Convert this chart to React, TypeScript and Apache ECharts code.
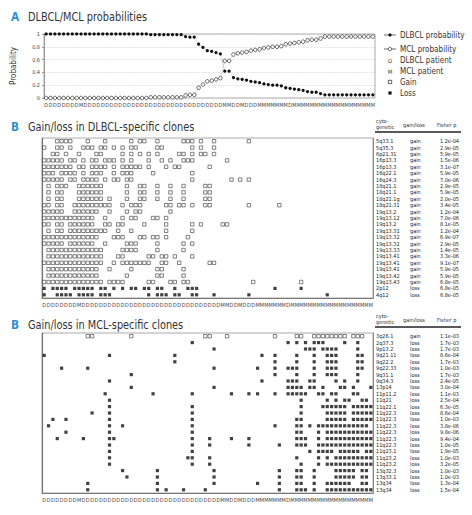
import React, { useEffect, useRef } from "react";
import * as echarts from "echarts";

const NARROW = "'Liberation Sans Narrow', 'DejaVu Sans Condensed', 'Arial Narrow', sans-serif";

// Patient order (D = DLBCL patient, M = MCL patient)
const patientTypes = ("DDDDDDDDM" + "DDDDDDDDDDDDDDDDDDDDDDDDDDDDDDDD" + "MMDDMDDDMMMMMMMD" + "MMMMMMMMMMMMMMMMMMM").split("");

const dlbclProb = [
  1, 1, 1, 1, 1, 1, 1, 1, 1, 1,
  1, 1, 1, 1, 1, 1, 1, 1, 1, 1,
  1, 1, 1, 1, 0.99, 0.99, 0.99, 0.99, 0.99, 0.99,
  0.99, 0.99, 0.96, 0.95, 0.95, 0.84, 0.79, 0.74, 0.73, 0.71,
  0.69, 0.42, 0.42, 0.32, 0.3, 0.29, 0.28, 0.26, 0.25, 0.24,
  0.22, 0.21, 0.2, 0.2, 0.19, 0.16, 0.15, 0.14, 0.13, 0.12,
  0.1, 0.09, 0.09, 0.07, 0.05, 0.05, 0.05, 0.05, 0.05, 0.05,
  0.05, 0.05, 0.05, 0.05, 0.05, 0.05,
];
const mclProb = [
  0, 0, 0, 0, 0, 0, 0, 0, 0, 0,
  0, 0, 0, 0, 0, 0, 0, 0, 0, 0,
  0, 0, 0, 0, 0.01, 0.01, 0.01, 0.01, 0.01, 0.01,
  0.01, 0.01, 0.04, 0.05, 0.05, 0.16, 0.21, 0.26, 0.27, 0.29,
  0.31, 0.58, 0.58, 0.68, 0.7, 0.71, 0.72, 0.74, 0.75, 0.76,
  0.78, 0.79, 0.8, 0.8, 0.81, 0.84, 0.85, 0.86, 0.87, 0.88,
  0.9, 0.91, 0.91, 0.93, 0.96, 0.96, 0.96, 0.96, 0.96, 0.96,
  0.96, 0.96, 0.96, 0.96, 0.96, 0.96,
];

// DLBCL-specific clones
const dlbclBands = ["5q33.1", "5q35.3", "6p21.31", "16p13.3", "16p13.3", "16q22.1", "16q24.3", "18q21.1", "18q21.1", "18q21.1g", "18q21.31", "19q13.2", "19q13.12", "19q13.2", "19q13.31", "19q13.32", "19q13.32", "19q13.33", "19q13.41", "19q13.41", "19q13.41", "19q13.42", "19q13.43", "2p12", "4q12"];
const dlbclKinds = ["gain", "gain", "gain", "gain", "gain", "gain", "gain", "gain", "gain", "gain", "gain", "gain", "gain", "gain", "gain", "gain", "gain", "gain", "gain", "gain", "gain", "gain", "gain", "loss", "loss"];
const dlbclPvals = ["1.2e-04", "2.9e-05", "5.9e-05", "1.5e-06", "3.1e-07", "5.9e-05", "7.0e-06", "2.9e-05", "5.9e-05", "2.0e-05", "3.4e-05", "1.2e-04", "7.0e-06", "8.1e-05", "1.2e-04", "6.9e-07", "2.9e-05", "1.4e-05", "3.3e-06", "9.1e-07", "5.9e-05", "5.9e-05", "6.8e-05", "6.8e-05", "6.8e-05"];
const dlbclHits = [
  [3, 4, 5, 6, 10, 14, 20, 22, 23, 26, 32, 33, 34, 36, 39, 47],
  [0, 3, 4, 6, 9, 10, 11, 13, 14, 16, 18, 20, 21, 26, 27, 34, 36, 39],
  [2, 3, 5, 8, 12, 13, 18, 20, 22, 24, 26, 31, 32, 34, 36, 37, 39],
  [0, 1, 2, 3, 4, 6, 7, 9, 11, 12, 14, 15, 16, 18, 20, 24, 27, 29, 32, 33, 34, 42],
  [0, 1, 2, 3, 4, 5, 6, 8, 9, 11, 12, 13, 14, 16, 18, 19, 20, 21, 22, 24, 28, 30, 31, 38],
  [0, 1, 2, 4, 5, 6, 7, 9, 11, 12, 13, 16, 18, 19, 20, 25, 34],
  [0, 1, 2, 3, 4, 6, 7, 9, 10, 11, 12, 14, 16, 17, 19, 20, 34, 43, 45, 47],
  [1, 3, 4, 5, 8, 9, 10, 11, 12, 13, 19, 22, 23, 26, 29, 32, 37, 38],
  [1, 3, 4, 8, 9, 10, 11, 12, 13, 19, 22, 23, 26, 29, 32, 37, 38],
  [1, 3, 4, 8, 9, 10, 11, 12, 13, 15, 19, 22, 23, 26, 29, 32, 37, 38],
  [0, 1, 3, 4, 7, 8, 9, 10, 11, 12, 13, 14, 15, 18, 20, 21, 22, 28, 29, 31, 32, 34, 37, 38, 47, 54],
  [0, 1, 2, 3, 4, 7, 8, 9, 10, 11, 12, 15, 19, 21, 22, 29],
  [0, 1, 2, 3, 4, 5, 6, 7, 8, 9, 10, 11, 14, 18, 20, 21, 25, 26, 28],
  [0, 1, 3, 4, 6, 7, 8, 9, 10, 11, 14, 15, 17, 18, 23, 28, 34, 36, 41, 42],
  [1, 3, 4, 6, 7, 8, 9, 10, 11, 12, 13, 14, 17, 20, 28, 34],
  [0, 1, 2, 3, 4, 5, 6, 7, 8, 9, 10, 11, 12, 16, 17, 18, 22, 23, 25, 26, 28, 33],
  [0, 1, 2, 3, 4, 6, 7, 8, 9, 10, 11, 14, 19, 20, 21, 26, 32, 34],
  [1, 2, 3, 4, 5, 6, 7, 8, 9, 10, 11, 12, 13, 18, 19, 20, 21, 26, 32],
  [1, 2, 3, 4, 5, 6, 7, 8, 9, 10, 11, 12, 13, 17, 18, 24, 25, 27, 28, 30, 34],
  [0, 1, 2, 3, 4, 5, 6, 7, 8, 9, 10, 11, 12, 13, 16, 18, 19, 20, 21, 22, 23, 24, 27, 28, 31, 38, 39],
  [1, 2, 3, 4, 5, 6, 7, 8, 9, 10, 11, 12, 15, 20, 26, 27, 32],
  [1, 2, 3, 4, 5, 6, 7, 8, 9, 10, 11, 12, 19, 26, 27, 32],
  [0, 1, 2, 3, 4, 5, 6, 7, 8, 9, 10, 11, 12, 13, 15, 16, 17, 18, 24, 25, 29, 30, 32, 33, 48, 59],
  [0, 2, 3, 4, 5, 7, 8, 9, 10, 11, 13, 14, 16, 18, 20, 21, 23, 24, 26, 27, 30, 33, 34, 35, 53, 59],
  [0, 3, 4, 5, 6, 8, 9, 10, 11, 13, 14, 15, 24, 26, 27, 28, 30, 31, 34, 35, 39, 47, 65],
];

// MCL-specific clones
const mclBands = ["3q26.1", "2q37.3", "9p13.2", "9q21.11", "9q22.2", "9q22.33", "9q31.1", "9q34.3", "13p14", "11p11.2", "11q21", "11q22.1", "11q22.3", "11q22.3", "11q22.3", "11q22.3", "11q22.3", "11q22.3", "11q23.1", "11q23.2", "11q23.2", "13q32.3", "13q33.1", "13q34", "13q34"];
const mclKinds = ["gain", "loss", "loss", "loss", "loss", "loss", "loss", "loss", "loss", "loss", "loss", "loss", "loss", "loss", "loss", "loss", "loss", "loss", "loss", "loss", "loss", "loss", "loss", "loss", "loss"];
const mclPvals = ["1.1e-03", "1.7e-03", "1.7e-03", "8.6e-04", "1.7e-03", "1.0e-03", "1.7e-03", "2.4e-05", "3.0e-04", "1.1e-03", "2.5e-04", "6.3e-05", "8.6e-04", "1.0e-03", "3.8e-06", "9.8e-06", "9.4e-04", "1.0e-05", "1.9e-05", "1.0e-03", "3.2e-05", "1.0e-03", "1.0e-03", "1.3e-04", "1.5e-04"];
const mclHits = [
  [10, 11, 20, 37, 38, 42, 53, 58, 59, 62, 63, 64, 65, 66, 67, 68, 69, 71, 72, 73],
  [34, 56, 58, 60, 62, 63, 64, 69, 72],
  [39, 60, 61, 62, 64, 65, 66, 67, 72],
  [0, 15, 30, 50, 53, 58, 62, 65, 66, 67, 72, 73],
  [30, 53, 58, 62, 65, 66, 67, 72, 73],
  [4, 10, 39, 49, 53, 56, 57, 58, 62, 65, 66, 67, 72, 73],
  [20, 53, 58, 62, 65, 66, 67, 72],
  [15, 50, 56, 57, 58, 61, 62, 67, 69, 72],
  [20, 39, 56, 57, 58, 59, 61, 62, 64, 68, 69, 71, 75],
  [14, 25, 34, 43, 47, 49, 53, 56, 57, 58, 59, 60, 63, 64, 66, 67, 71, 72],
  [15, 59, 65, 67, 69, 70, 73, 74],
  [15, 34, 59, 64, 65, 66, 67, 68, 69, 71, 72, 73, 74, 75],
  [11, 15, 34, 59, 65, 66, 67, 68, 69, 71, 72, 73, 74, 75],
  [2, 5, 15, 34, 58, 59, 65, 66, 67, 68, 69, 71, 72, 73, 74, 75],
  [1, 15, 18, 34, 53, 58, 59, 61, 63, 64, 65, 66, 67, 68, 69, 70, 71, 72, 73, 74],
  [5, 15, 34, 58, 59, 63, 65, 66, 67, 68, 69, 70, 71, 72, 73, 74, 75],
  [3, 9, 15, 16, 34, 38, 43, 47, 58, 59, 60, 63, 65, 66, 67, 68, 69, 70, 71, 72, 73, 74, 75],
  [15, 34, 38, 47, 54, 58, 59, 60, 63, 64, 65, 66, 67, 68, 69, 70, 71, 72, 73, 74, 75],
  [15, 34, 61, 63, 64, 65, 66, 68, 69, 70, 71, 72, 74, 75],
  [15, 33, 34, 38, 58, 63, 65, 67, 68, 69, 70, 71, 72, 73, 74, 75],
  [15, 34, 38, 59, 63, 65, 66, 67, 68, 69, 70, 71, 72, 73, 74, 75],
  [18, 26, 39, 54, 58, 59, 62, 67, 68, 69, 70, 71, 73, 74],
  [19, 26, 39, 54, 58, 59, 62, 67, 68, 69, 70, 71, 73, 74],
  [10, 26, 39, 49, 54, 58, 59, 62, 65, 66, 67, 68, 69, 70, 73, 74],
  [10, 26, 28, 32, 37, 54, 58, 59, 60, 62, 65, 66, 67, 68, 69, 70, 71, 72, 73, 74, 75],
];

function pointsOf(hits: number[][], kinds: string[], kind: string) {
  const out: number[][] = [];
  hits.forEach((row, r) => {
    if (kinds[r] !== kind) return;
    row.forEach((i) => out.push([i, r]));
  });
  return out;
}

export default function App() {
  const ref = useRef<HTMLDivElement>(null);
  useEffect(() => {
    const chart = echarts.init(ref.current!, null, { renderer: "svg" });
    const txt = "#333";
    const tiny = 5.5;
    const xCat = (grid: number) => ({
      type: "category",
      gridIndex: grid,
      data: patientTypes,
      boundaryGap: true,
      axisLine: { show: grid !== 0, lineStyle: { color: "#777", width: 1.2 } },
      axisTick: { show: false },
      axisLabel: { interval: 0, fontSize: tiny, margin: 4, color: "#444", fontFamily: NARROW },
      splitLine: { show: false },
    });
    const rowIdx = (n: number) => Array.from({ length: n }, (_, i) => String(i));
    const richTable = {
      a: { width: 34, fontSize: tiny, fontFamily: NARROW, color: "#222" },
      b: { width: 30, fontSize: tiny, fontFamily: NARROW, color: "#222" },
      c: { fontSize: tiny, fontFamily: NARROW, color: "#222" },
    };
    const yRows = (grid: number) => ({
      type: "category",
      gridIndex: grid,
      data: rowIdx(25),
      inverse: true,
      axisLine: { show: true, lineStyle: { color: "#777", width: 1.2 } },
      axisTick: { show: false },
      axisLabel: { show: false },
      splitLine: { show: false },
    });
    const yTable = (grid: number, bands: string[], kinds: string[], pv: string[]) => ({
      type: "category",
      gridIndex: grid,
      position: "right",
      data: rowIdx(25),
      inverse: true,
      axisLine: { show: true, lineStyle: { color: "#888", width: 1 } },
      axisTick: { show: false },
      axisLabel: {
        interval: 0,
        margin: 3,
        formatter: (_v: string, i: number) => `{a|${bands[i]}}{b|${kinds[i]}}{c|${pv[i]}}`,
        rich: richTable,
      },
      splitLine: { show: false },
    });
    const gainStyle = { color: "#fff", borderColor: "#222", borderWidth: 0.7 };
    const lossStyle = { color: "#111" };

    const T = (x: number, y: number, text: string, size: number, extra: any = {}, sx = 1) => ({
      type: "text",
      x,
      y,
      scaleX: sx,
      style: { text, fontSize: size, fontFamily: NARROW, fill: txt, verticalAlign: "middle", ...extra },
    });
    const header = (y: number) => [
      T(376, y - 6, "cyto-", tiny),
      T(376, y, "genetic", tiny),
      T(403, y - 2, "gain/loss", tiny),
      T(437, y - 2, "Fisher p", tiny),
      { type: "line", shape: { x1: 375, y1: y + 5, x2: 461, y2: y + 5 }, style: { stroke: "#222", lineWidth: 1.5 } },
    ];
    const legY = [35, 49, 60, 71, 82, 93];
    const legText = ["DLBCL probability", "MCL probability", "DLBCL patient", "MCL patient", "Gain", "Loss"];
    const blue = { fill: "#2f8fce", fontWeight: "bold" };

    const option: any = {
      animation: false,
      backgroundColor: "#fff",
      grid: [
        { left: 44, top: 34, width: 331, height: 64, show: true, borderColor: "#aaa", borderWidth: 1 },
        { left: 42, top: 138, width: 331, height: 160, show: true, borderColor: "#aaa", borderWidth: 1 },
        { left: 42, top: 333, width: 331, height: 160, show: true, borderColor: "#aaa", borderWidth: 1 },
      ],
      xAxis: [xCat(0), xCat(1), xCat(2)],
      yAxis: [
        {
          type: "value",
          gridIndex: 0,
          min: 0,
          max: 1,
          interval: 0.2,
          name: "Probability",
          nameLocation: "middle",
          nameGap: 27,
          nameRotate: 90,
          nameTextStyle: { fontSize: 8, fontFamily: NARROW, color: txt },
          axisLine: { show: true, lineStyle: { color: "#999", width: 1 } },
          axisTick: { show: true, length: 2, lineStyle: { color: "#999" } },
          axisLabel: { fontSize: tiny, margin: 4, color: "#444", fontFamily: NARROW },
          splitLine: { show: true, lineStyle: { color: "#ccc", type: "dotted", width: 0.7 } },
        },
        yRows(1),
        yTable(1, dlbclBands, dlbclKinds, dlbclPvals),
        yRows(2),
        yTable(2, mclBands, mclKinds, mclPvals),
      ],
      series: [
        {
          type: "line",
          xAxisIndex: 0,
          yAxisIndex: 0,
          data: mclProb,
          symbol: "circle",
          symbolSize: 3.6,
          lineStyle: { color: "#bbb", width: 0.5 },
          itemStyle: { color: "#fff", borderColor: "#222", borderWidth: 0.7 },
        },
        {
          type: "line",
          xAxisIndex: 0,
          yAxisIndex: 0,
          data: dlbclProb,
          symbol: "circle",
          symbolSize: 3.2,
          lineStyle: { color: "#bbb", width: 0.5 },
          itemStyle: { color: "#111" },
        },
        { type: "scatter", xAxisIndex: 1, yAxisIndex: 1, data: pointsOf(dlbclHits, dlbclKinds, "gain"), symbol: "rect", symbolSize: 3.4, itemStyle: gainStyle },
        { type: "scatter", xAxisIndex: 1, yAxisIndex: 1, data: pointsOf(dlbclHits, dlbclKinds, "loss"), symbol: "rect", symbolSize: 3.2, itemStyle: lossStyle },
        { type: "scatter", xAxisIndex: 2, yAxisIndex: 3, data: pointsOf(mclHits, mclKinds, "gain"), symbol: "rect", symbolSize: 3.4, itemStyle: gainStyle },
        { type: "scatter", xAxisIndex: 2, yAxisIndex: 3, data: pointsOf(mclHits, mclKinds, "loss"), symbol: "rect", symbolSize: 3.2, itemStyle: lossStyle },
      ],
      graphic: [
        T(11, 17, "A", 13, blue, 0.9),
        T(28, 17, "DLBCL/MCL probabilities", 12.5, {}, 0.87),
        T(11, 127, "B", 13, blue, 0.9),
        T(28, 127, "Gain/loss in DLBCL-specific clones", 12.5, {}, 0.87),
        T(11, 325, "B", 13, blue, 0.9),
        T(28, 325, "Gain/loss in MCL-specific clones", 12.5, {}, 0.87),
        ...header(127),
        ...header(322),
        { type: "line", shape: { x1: 384, y1: legY[0], x2: 396, y2: legY[0] }, style: { stroke: "#333", lineWidth: 0.7 } },
        { type: "circle", shape: { cx: 390, cy: legY[0], r: 1.6 }, style: { fill: "#111" } },
        { type: "line", shape: { x1: 384, y1: legY[1], x2: 396, y2: legY[1] }, style: { stroke: "#333", lineWidth: 0.7 } },
        { type: "circle", shape: { cx: 390, cy: legY[1], r: 1.8 }, style: { fill: "#fff", stroke: "#222", lineWidth: 0.7 } },
        T(390, legY[2], "D", 6, { align: "center", fill: "#444" }),
        T(390, legY[3], "M", 6, { align: "center", fill: "#444" }),
        { type: "rect", shape: { x: 388.3, y: legY[4] - 1.7, width: 3.4, height: 3.4 }, style: { fill: "#fff", stroke: "#222", lineWidth: 0.7 } },
        { type: "rect", shape: { x: 388.4, y: legY[5] - 1.6, width: 3.2, height: 3.2 }, style: { fill: "#111" } },
        ...legText.map((t, k) => T(400, legY[k], t, 9.5, {}, 0.85)),
      ],
    };
    chart.setOption(option);
    return () => chart.dispose();
  }, []);
  return <div ref={ref} style={{ position: "fixed", left: 0, top: 0, width: 472, height: 515, background: "#fff" }} />;
}
